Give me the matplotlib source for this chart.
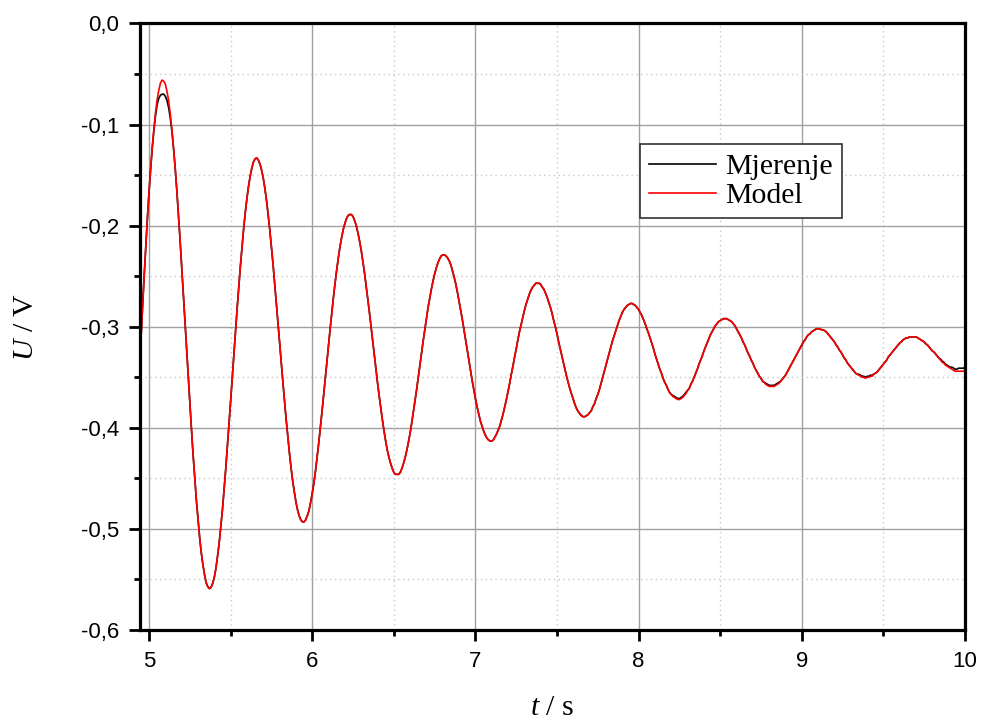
import numpy as np
import matplotlib
matplotlib.use("Agg")
import matplotlib.pyplot as plt
from matplotlib.ticker import MultipleLocator

# Time base: samples every 0.01 s starting at 4.94 s
t_start = 4.94
t_step = 0.01

# |U| in mV (the voltage is negative)
model_mv_a = [346,314,282,251,221,193,167,144,122,104,88,75,66,59,56,57,60,67,76,89,104,122,142,164,188,213,240,266,294,321,349,375,401,426,449,471,490,508,523,535,545,553,557,559,558,554,548,539,527,514,498,481,461,441,419,397,374,351,328,305,282,261,240,221,203,187,173,161,151,143,137,134,133,135,139,145,153,163,175,189,204,221,238,257,276,296,315,335,354,373,391,408,424,439,452,463,473,481,487,491,493,493,491,487,482,474,465,455,443,429,415,400,384,368,351,335,318,302,286,271,257,244,232,221,212,204,198,193,190,189,189,191,195,200,207,215,224,235,246,259,272,285,299,313,327,341,355,368,380,392,403,413,422,429,435,440,444,446,446,446,444,440,435,429,422,414,405,395,384,373,362,350,338,326,314,303,292,281,272,263,255,248,242,237,233,230,229,229,230,232,235,239,245,251,258,266,275,284,293,303,313,323,333,343,353,362,371,379,386,393,398,403,407,410,412,413,413,412,409,406,402,398,392,386,379,372,364,356,347,339,330,322,313,305,298,291,284,278,273,268,264,261,259,257,257,257,258,261,263,267,271,276,281,287]
model_mv_b = [294,300,307,315,322,329,336,343,350,356,362,367,372,377,381,384,386,388,389,389,388,387,385,383,379,376,371,367,362,356,350,344,338,332,326,320,314,309,304,299,294,290,286,283,281,279,278,277,277,278,279,281,283,286,289,293,297,302,306,311,316,321,327,332,337,342,346,351,355,358,362,365,367,369,370,371,372,372,371,370,368,366,363,361,357,354,350,346,342,337,333,329,324,320,316,312,308,305,302,299,297,295,294,293,292,292,292,293,294,295,297,299,302,305,308,311,315,318,322,326,329,333,336,340,343,346,349,351,354,355,357,358,359,359,359,359,358,357,356,354,352,350,348,345,342,339,336,333,330,327,324,321,318,315,313,310,308,307,305,304,303,302,302,302,303,303,304,305,307,309,311,313,315,318,320,323,325,328,331,333,336,338,340,342,344,346,347,348,349,350,350,351,350,350,349,349,347,346,345,343,341,339,337,335,333,330,328,326,324,322,320,318,316,315,313,312,311,311,310,310,310,310,310,311,312,313,314,315,317,318,320,322,324,325,327,329,331,333,335,336,338,339,340,341,342,343,344,344,344,344,344,344,343]

meas_mv_a = [346,314,282,251,221,193,167,144,123,106,91,80,74,71,70,70,72,76,83,93,106,123,142,164,188,213,240,266,294,321,349,375,401,426,449,471,490,508,523,535,545,553,557,559,558,554,548,539,527,514,498,481,461,441,419,397,374,351,328,305,282,261,240,221,203,187,173,161,151,143,137,134,133,135,139,145,153,163,175,189,204,221,238,257,276,296,315,335,354,373,391,408,424,439,452,463,473,481,487,491,493,493,491,487,482,474,465,455,443,429,415,400,384,368,351,335,318,302,286,271,257,244,232,221,212,204,198,193,190,189,189,191,195,200,207,215,224,235,246,259,272,285,299,313,327,341,355,368,380,392,403,413,422,429,435,440,444,446,446,446,444,440,435,429,422,414,405,395,384,373,362,350,338,326,314,303,292,281,272,263,255,248,242,237,233,230,229,229,230,232,235,239,245,251,258,266,275,284,293,303,313,323,333,343,353,362,371,379,386,393,398,403,407,410,412,413,413,412,409,406,402,398,392,386,379,372,364,356,347,339,330,322,313,305,298,291,284,278,273,268,264,261,259,257,257,257,258,261,263,267,271,276,281,287]
meas_mv_b = [294,300,307,315,322,329,336,343,350,356,
             362,367,372,377,381,384,386,388,389,389,
             388,387,385,383,379,376,371,367,362,356,
             350,344,338,332,326,320,314,309,304,299,
             294,290,286,283,281,279,278,277,277,278,
             279,281,283,286,289,293,297,302,306,311,
             316,321,327,332,337,342,346,351,355,358,
             362,365,367,368,369,370,371,371,370,369,
             367,365,363,361,357,354,350,346,342,337,
             333,329,324,320,316,312,308,305,302,299,
             297,295,294,293,292,292,292,293,294,295,
             297,299,302,305,308,311,315,318,322,326,
             329,333,336,340,343,346,349,351,354,355,
             356,357,358,358,358,358,357,356,355,354,
             352,350,348,345,342,339,336,333,330,327,
             324,321,318,315,313,310,308,307,305,304,
             303,302,302,302,303,303,304,305,307,309,
             311,313,315,318,320,323,325,328,331,333,
             336,338,340,342,344,346,347,347,348,349,
             349,350,349,349,348,348,347,346,345,343,
             341,339,337,335,333,330,328,326,324,322,
             320,318,316,315,313,312,311,311,310,310,
             310,310,310,311,312,313,314,315,317,318,
             320,322,324,325,327,329,331,332,334,335,
             337,338,339,340,340,341,342,342,341,341,
             341,341,340]

series_labels = ["Mjerenje", "Model"]
x_ticks = [5, 6, 7, 8, 9, 10]
x_tick_labels = ["5", "6", "7", "8", "9", "10"]
y_ticks = [-0.6, -0.5, -0.4, -0.3, -0.2, -0.1, 0.0]
y_tick_labels = ["-0,6", "-0,5", "-0,4", "-0,3", "-0,2", "-0,1", "0,0"]

model_u = -np.array(model_mv_a + model_mv_b) / 1000.0
meas_u = -np.array(meas_mv_a + meas_mv_b) / 1000.0
t_model = np.round(t_start + t_step * np.arange(len(model_u)), 2)
t_meas = np.round(t_start + t_step * np.arange(len(meas_u)), 2)

plt.rcParams['mathtext.fontset'] = 'custom'
plt.rcParams['mathtext.rm'] = 'Liberation Serif'
plt.rcParams['mathtext.it'] = 'Liberation Serif:italic'

fig = plt.figure(figsize=(9.84, 7.22), dpi=100)
ax = fig.add_axes([0.1423, 0.1274, 0.8384, 0.8401])
ax.set_axisbelow(True)
ax.plot(t_meas, meas_u, color='black', lw=1.2, label=series_labels[0])
ax.plot(t_model, model_u, color='red', lw=1.2, label=series_labels[1])
ax.set_xlim(4.945, 10)
ax.set_ylim(-0.6, 0.0)
ax.xaxis.set_minor_locator(MultipleLocator(0.5))
ax.yaxis.set_minor_locator(MultipleLocator(0.05))
ax.set_xticks(x_ticks, x_tick_labels)
ax.set_yticks(y_ticks, y_tick_labels)
ax.grid(which='major', color='#a0a0a0', lw=1.0, ls='-')
ax.grid(which='minor', color='#c8c8c8', lw=1.0, ls=(0, (1, 2.5)))
for s in ax.spines.values():
    s.set_linewidth(2.3)
ax.tick_params(which='major', direction='out', length=8, width=2, labelsize=16, pad=7)
ax.tick_params(which='minor', direction='out', length=4, width=2)
for lab in ax.get_xticklabels() + ax.get_yticklabels():
    lab.set_fontfamily('Liberation Sans')
ax.set_xlabel(r'$t$ / s', fontfamily='Liberation Serif', fontsize=21.5, labelpad=17)
ax.set_ylabel(r'$U$ / V', fontfamily='Liberation Serif', fontsize=21.5, labelpad=30)
leg = ax.legend(loc='upper left', bbox_to_anchor=(0.606, 0.801), borderaxespad=0,
                prop={'family': 'Liberation Serif', 'size': 21.5}, fancybox=False,
                framealpha=1, edgecolor='#333333', handlelength=2.25, handletextpad=0.3,
                borderpad=0.3, labelspacing=0.07)
leg.get_frame().set_linewidth(1.2)
fig.savefig('out.png', dpi=100)
